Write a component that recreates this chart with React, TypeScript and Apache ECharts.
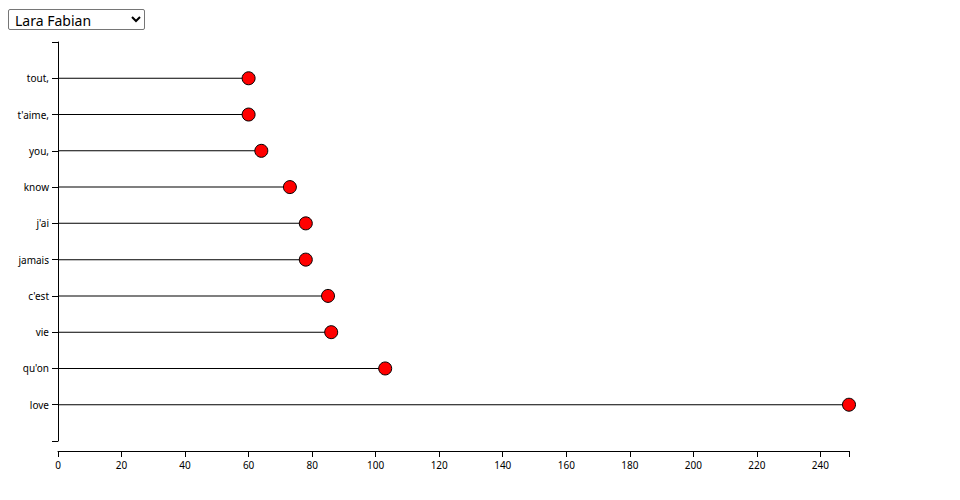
import React, { useEffect, useRef } from "react";
import * as echarts from "echarts";

const artists = ["Lara Fabian"];
const words = ["tout,", "t'aime,", "you,", "know", "j'ai", "jamais", "c'est", "vie", "qu'on", "love"];
const counts = [60, 60, 64, 73, 78, 78, 85, 86, 103, 249];
const xTicks = [0, 20, 40, 60, 80, 100, 120, 140, 160, 180, 200, 220, 240];

export default function App() {
  const ref = useRef<HTMLDivElement>(null);
  useEffect(() => {
    if (!ref.current) return;
    const chart = echarts.init(ref.current, undefined, { renderer: "svg" });
    const cats = ["", ...words, ""];
    const vals: any[] = ["-", ...counts, "-"];
    const maxV = Math.max(...counts);
    const font = { fontFamily: "Noto Sans", fontSize: 10, color: "#000" };
    chart.setOption({
      animation: false,
      grid: { left: 58, right: 960 - 849, top: 42, bottom: 500 - 441, containLabel: false },
      xAxis: [
        {
          type: "value",
          min: 0,
          max: maxV,
          interval: xTicks[1] - xTicks[0],
          offset: 10,
          splitLine: { show: false },
          axisLine: { show: true, lineStyle: { color: "#000", width: 1 } },
          axisTick: { show: true, length: 6, lineStyle: { color: "#000" } },
          axisLabel: { ...font, margin: 9, showMaxLabel: false },
        },
        {
          type: "value",
          position: "bottom",
          min: 0,
          max: maxV,
          interval: maxV,
          offset: 10,
          splitLine: { show: false },
          axisLine: { show: false },
          axisTick: { show: true, length: 6, lineStyle: { color: "#000" } },
          axisLabel: { show: false },
        },
      ],
      yAxis: {
        type: "category",
        data: cats,
        inverse: true,
        boundaryGap: false,
        axisLine: { show: true, lineStyle: { color: "#000", width: 1 } },
        axisTick: { show: true, length: 6, alignWithLabel: true, interval: 0, lineStyle: { color: "#000" } },
        axisLabel: { ...font, margin: 9, interval: 0 },
        splitLine: { show: false },
      },
      series: [
        {
          type: "bar",
          data: vals,
          barWidth: 1,
          itemStyle: { color: "#000" },
          silent: true,
        },
        {
          type: "scatter",
          data: vals,
          symbol: "circle",
          symbolSize: 13,
          itemStyle: { color: "#ff0000", borderColor: "#000", borderWidth: 1, opacity: 1 },
          z: 5,
        },
      ],
    });
    return () => chart.dispose();
  }, []);
  return (
    <div style={{ position: "relative", width: 944, height: 484 }}>
      <div ref={ref} style={{ position: "absolute", left: -8, top: -8, width: 960, height: 500 }} />
      <select
        defaultValue={artists[0]}
        style={{
          position: "absolute",
          left: 0,
          top: 1,
          width: 137,
          height: 21,
          zIndex: 2,
          fontFamily: "Noto Sans",
          fontSize: 14,
          border: "1px solid #767676",
          borderRadius: 2,
          background: "#fff",
          color: "#000",
          padding: "0 2px",
        }}
      >
        {artists.map((a) => (
          <option key={a} value={a}>{a}</option>
        ))}
      </select>
    </div>
  );
}
